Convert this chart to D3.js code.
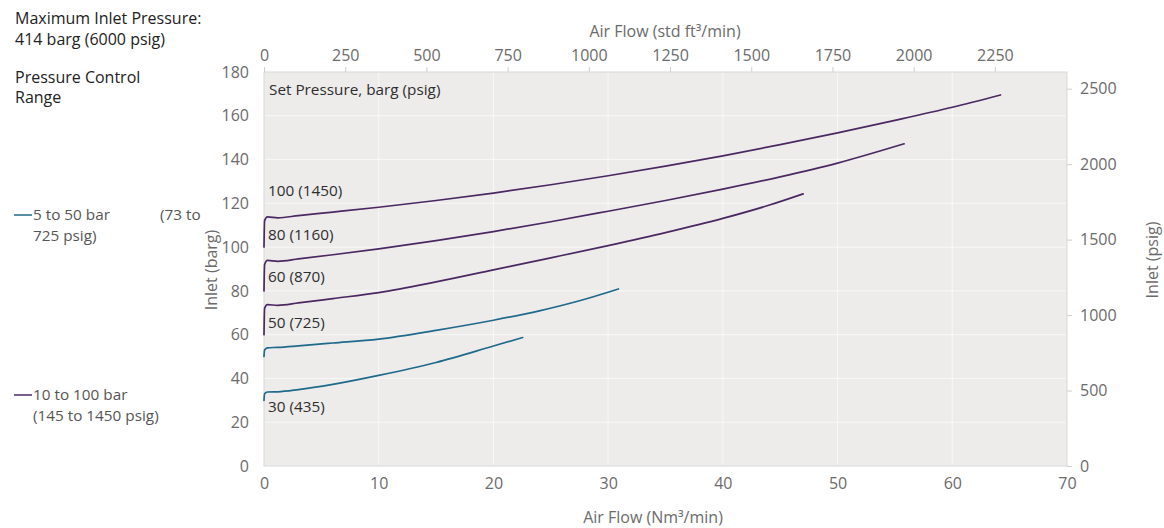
<!DOCTYPE html>
<html>
<head>
<meta charset="utf-8">
<script src="https://cdn.jsdelivr.net/npm/d3@7"></script>
<style>
  html, body { margin: 0; padding: 0; background: #ffffff; }
  svg { display: block; font-family: "Open Sans", Lato, sans-serif; }
</style>
</head>
<body>
<svg id="chart" width="1164" height="528"></svg>
<script>
// Inlet pressure (barg) versus air flow (Nm3/min) for each set pressure.
const flow100  = [0, 0.05, 0.3, 1.2, 3, 6, 10, 15, 20, 25, 30, 35, 40, 45, 50, 55, 60, 64.2];
const inlet100 = [100, 112, 113.8, 113.4, 114.4, 116, 118.2, 121.3, 124.7, 128.5, 132.6, 137, 141.7, 146.8, 152.2, 157.9, 163.9, 169.5];

const flow80  = [0, 0.05, 0.3, 1.2, 3, 6, 10, 15, 20, 25, 30, 35, 40, 45, 50, 55.8];
const inlet80 = [80, 92, 93.9, 93.5, 94.6, 96.5, 99.2, 103, 107.1, 111.6, 116.4, 121.3, 126.5, 132.1, 138.4, 147.2];

const flow60  = [0, 0.05, 0.3, 1.2, 3, 6, 10, 15, 20, 25, 30, 35, 40, 44, 47];
const inlet60 = [60, 72, 73.7, 73.4, 74.5, 76.5, 79.2, 84.1, 89.6, 95.1, 100.7, 106.6, 113.1, 119.1, 124.3];

const flow50  = [0, 0.05, 0.3, 1.2, 3, 6, 10, 15, 20, 24, 27.5, 30.9];
const inlet50 = [50, 53, 54, 54.2, 54.9, 56.2, 58, 62, 66.6, 70.9, 75.5, 80.9];

const flow30  = [0, 0.05, 0.3, 1.2, 3, 6, 10, 15, 20, 22.55];
const inlet30 = [30, 33, 33.8, 33.9, 34.9, 37.3, 41.4, 47.3, 54.8, 58.7];

const setLabels   = ["100 (1450)", "80 (1160)", "60 (870)", "50 (725)", "30 (435)"];
const labelInlet  = [126, 105.5, 86.5, 65.5, 27];   // vertical position of each set-pressure label (barg)

const flowTicks   = [0, 10, 20, 30, 40, 50, 60, 70];
const scfmTicks   = [0, 250, 500, 750, 1000, 1250, 1500, 1750, 2000, 2250];
const bargTicks   = [0, 20, 40, 60, 80, 100, 120, 140, 160, 180];
const psigTicks   = [0, 500, 1000, 1500, 2000, 2500];

const rangeNames  = ["5 to 50 bar", "10 to 100 bar"];

const BAR_TO_PSI = 14.5038;
const M3_TO_FT3  = 35.3147;

const purple = "#4b2862";
const teal   = "#1f6a8c";

const series = [
  { x: flow100, y: inlet100, color: purple },
  { x: flow80,  y: inlet80,  color: purple },
  { x: flow60,  y: inlet60,  color: purple },
  { x: flow50,  y: inlet50,  color: teal },
  { x: flow30,  y: inlet30,  color: teal }
];

const svg = d3.select("#chart");
const plot = { left: 264, right: 1067, top: 72, bottom: 466 };

const x  = d3.scaleLinear().domain([0, 70]).range([plot.left, plot.right]);
const y  = d3.scaleLinear().domain([0, 180]).range([plot.bottom, plot.top]);
const xT = d3.scaleLinear().domain([0, 70 * M3_TO_FT3]).range([plot.left, plot.right]);
const yR = d3.scaleLinear().domain([0, 180 * BAR_TO_PSI]).range([plot.bottom, plot.top]);

const tickColor = "#6b6b6b";
const tickFont = "16px";
const plain = d3.format("d");

// plot background
svg.append("rect")
  .attr("x", plot.left).attr("y", plot.top)
  .attr("width", plot.right - plot.left).attr("height", plot.bottom - plot.top)
  .attr("fill", "#edeceb").attr("stroke", "#d8d8d8").attr("stroke-width", 1);

// gridlines
svg.append("g").selectAll("line").data(flowTicks.slice(1, -1)).join("line")
  .attr("x1", d => x(d)).attr("x2", d => x(d))
  .attr("y1", plot.top + 1).attr("y2", plot.bottom - 1)
  .attr("stroke", "#f8f8f8").attr("stroke-width", 1);
svg.append("g").selectAll("line").data(bargTicks.slice(1, -1)).join("line")
  .attr("x1", plot.left + 1).attr("x2", plot.right - 1)
  .attr("y1", d => y(d)).attr("y2", d => y(d))
  .attr("stroke", "#f8f8f8").attr("stroke-width", 1);

function styleAxis(g) {
  g.select(".domain").remove();
  g.selectAll(".tick line").attr("stroke", "#cfcfcf");
  g.selectAll(".tick text").attr("fill", tickColor).style("font-size", tickFont)
    .style("font-family", "'Open Sans', sans-serif");
}

// bottom axis: Nm3/min
svg.append("g").attr("transform", `translate(0,${plot.bottom})`)
  .call(d3.axisBottom(x).tickValues(flowTicks).tickFormat(plain).tickSize(0).tickPadding(12))
  .call(styleAxis);

// top axis: std ft3/min
svg.append("g").attr("transform", `translate(0,${plot.top})`)
  .call(d3.axisTop(xT).tickValues(scfmTicks).tickFormat(plain).tickSize(5).tickPadding(6))
  .call(styleAxis);

// left axis: barg
svg.append("g").attr("transform", `translate(${plot.left},0)`)
  .call(d3.axisLeft(y).tickValues(bargTicks).tickFormat(plain).tickSize(0).tickPadding(15))
  .call(styleAxis);

// right axis: psig
svg.append("g").attr("transform", `translate(${plot.right},0)`)
  .call(d3.axisRight(yR).tickValues(psigTicks).tickFormat(plain).tickSize(5).tickPadding(8))
  .call(styleAxis);

// axis titles
const titleStyle = sel => sel.attr("fill", "#6b6b6b").style("font-size", "16px");
svg.append("text").attr("x", 653).attr("y", 523).attr("text-anchor", "middle")
  .call(titleStyle).text("Air Flow (Nm³/min)");
svg.append("text").attr("x", 665).attr("y", 37).attr("text-anchor", "middle")
  .call(titleStyle).text("Air Flow (std ft³/min)");
svg.append("text").attr("transform", "translate(217,270) rotate(-90)").attr("text-anchor", "middle")
  .call(titleStyle).text("Inlet (barg)");
svg.append("text").attr("transform", "translate(1158,260) rotate(-90)").attr("text-anchor", "middle")
  .call(titleStyle).text("Inlet (psig)");

// curves
const line = d3.line().x(d => x(d[0])).y(d => y(d[1])).curve(d3.curveMonotoneX);
svg.append("g").selectAll("path").data(series).join("path")
  .attr("d", s => line(d3.zip(s.x, s.y)))
  .attr("fill", "none")
  .attr("stroke", s => s.color)
  .attr("stroke-width", 1.7)
  .attr("stroke-linecap", "round");

// set-pressure labels
svg.append("text").attr("x", 269).attr("y", 95)
  .attr("fill", "#2e2e2e").style("font-size", "15.3px").text("Set Pressure, barg (psig)");
svg.append("g").selectAll("text").data(setLabels).join("text")
  .attr("x", 268)
  .attr("y", (d, i) => y(labelInlet[i]))
  .attr("dy", "0.35em")
  .attr("fill", "#2e2e2e").style("font-size", "15.3px")
  .text(d => d);

// notes on the left
const note = svg.append("g").attr("fill", "#222").style("font-size", "16px");
note.append("text").attr("x", 15).attr("y", 24).text("Maximum Inlet Pressure:");
note.append("text").attr("x", 15).attr("y", 45).text("414 barg (6000 psig)");
note.append("text").attr("x", 15).attr("y", 83).text("Pressure Control");
note.append("text").attr("x", 15).attr("y", 103).text("Range");

// range legend
const legend = svg.append("g").style("font-size", "15.3px").attr("fill", "#555");
const legendRows = [
  { name: rangeNames[0], color: teal, y: 215, extra: "(73 to", second: "725 psig)" },
  { name: rangeNames[1], color: purple, y: 395, extra: null, second: "(145 to 1450 psig)" }
];
legendRows.forEach(r => {
  legend.append("line").attr("x1", 14).attr("x2", 32).attr("y1", r.y).attr("y2", r.y)
    .attr("stroke", r.color).attr("stroke-width", 1.5);
  legend.append("text").attr("x", 33).attr("y", r.y).attr("dy", "0.35em").text(r.name);
  if (r.extra) legend.append("text").attr("x", 160).attr("y", r.y).attr("dy", "0.35em").text(r.extra);
  legend.append("text").attr("x", 33).attr("y", r.y + 21).attr("dy", "0.35em").text(r.second);
});
</script>
</body>
</html>
